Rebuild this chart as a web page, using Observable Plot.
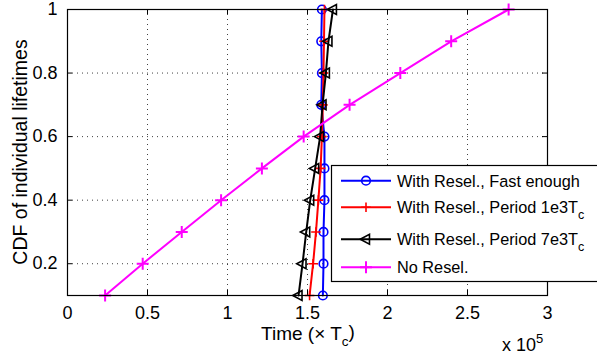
<!DOCTYPE html>
<html>
<head>
<meta charset="utf-8">
<script src="https://cdn.jsdelivr.net/npm/d3@7"></script>
<script src="https://cdn.jsdelivr.net/npm/@observablehq/plot@0.6"></script>
<style>
  html, body { margin: 0; padding: 0; background: #fff; }
  #chart svg { display: block; }
</style>
</head>
<body>
<div id="chart"></div>
<script>
// ---- data (x in units of 10^5 Tc) ----
const cdfLevels = [0.1, 0.2, 0.3, 0.4, 0.5, 0.6, 0.7, 0.8, 0.9, 1.0];
const fastEnough = [1.596, 1.600, 1.600, 1.606, 1.606, 1.606, 1.586, 1.590, 1.586, 1.590];
const period1e3 = [1.513, 1.535, 1.553, 1.568, 1.582, 1.590, 1.596, 1.600, 1.603, 1.606];
const period7e3 = [1.444, 1.469, 1.492, 1.517, 1.548, 1.579, 1.594, 1.615, 1.631, 1.659];
const noResel = [0.235, 0.470, 0.714, 0.960, 1.215, 1.476, 1.763, 2.080, 2.398, 2.757];
const seriesNames = ["With Resel., Fast enough", "With Resel., Period 1e3T_c", "With Resel., Period 7e3T_c", "No Resel."];
const xTicks = [0, 0.5, 1, 1.5, 2, 2.5, 3];
const yTicks = [0.2, 0.4, 0.6, 0.8, 1];
const xExponent = 5;

// ---- symbols ----
const circleSym = {draw(ctx, size) { const r = Math.sqrt(size / Math.PI); ctx.moveTo(r, 0); ctx.arc(0, 0, r, 0, 2 * Math.PI); }};
const plusSym = {draw(ctx, size) { const r = Math.sqrt(size / Math.PI); ctx.moveTo(-r, 0); ctx.lineTo(r, 0); ctx.moveTo(0, -r); ctx.lineTo(0, r); }};
const triLeftSym = {draw(ctx, size) { const r = Math.sqrt(size / Math.PI); ctx.moveTo(-r, 0); ctx.lineTo(r * 0.6, -r * 0.85); ctx.lineTo(r * 0.6, r * 0.85); ctx.closePath(); }};

const series = [
  {name: seriesNames[0], values: fastEnough, color: "#0000ff", symbol: circleSym, r: 4.3, sw: 1.6},
  {name: seriesNames[1], values: period1e3, color: "#ff0000", symbol: plusSym, r: 4.8, sw: 1.6},
  {name: seriesNames[2], values: period7e3, color: "#000000", symbol: triLeftSym, r: 5.8, sw: 1.6},
  {name: seriesNames[3], values: noResel, color: "#ff00ff", symbol: plusSym, r: 6, sw: 2}
];
const rows = series.map(s => s.values.map((x, i) => ({series: s.name, x, y: cdfLevels[i]})));

const W = 597, H = 358;
const mL = 67, mR = 50, mT = 9, mB = 63;
const plotH = H - mT - mB;
const FONT = "'Liberation Sans', Arial, Helvetica, sans-serif";

const marks = [
  Plot.gridX(xTicks, {stroke: "#000", strokeOpacity: 0.75, strokeDasharray: "1,4", strokeWidth: 1}),
  Plot.gridY(yTicks, {stroke: "#000", strokeOpacity: 0.75, strokeDasharray: "1,4", strokeWidth: 1}),
  Plot.ruleX(xTicks, {insetTop: plotH - 5, stroke: "#000"}),
  Plot.ruleX(xTicks, {insetBottom: plotH - 5, stroke: "#000"}),
  Plot.ruleY(yTicks, {insetRight: (W - mL - mR) - 5, stroke: "#000"}),
  Plot.ruleY(yTicks, {insetLeft: (W - mL - mR) - 5, stroke: "#000"}),
  Plot.axisX(xTicks, {tickSize: 0, tickPadding: 11, label: null, tickFormat: d => String(d)}),
  Plot.axisY(yTicks, {tickSize: 0, tickPadding: 10, label: null, tickFormat: d => String(d)})
];
series.forEach((s, k) => {
  marks.push(Plot.line(rows[k], {x: "x", y: "y", stroke: s.color, strokeWidth: 2}));
  marks.push(Plot.dot(rows[k], {x: "x", y: "y", stroke: s.color, fill: "none", symbol: s.symbol, r: s.r, strokeWidth: s.sw}));
});
marks.push(Plot.frame({stroke: "#000", strokeWidth: 1.2}));

const chart = Plot.plot({
  width: W, height: H,
  marginLeft: mL, marginRight: mR, marginTop: mT, marginBottom: mB,
  style: {fontFamily: FONT, fontSize: "18px", color: "#000", background: "#fff", overflow: "visible"},
  x: {domain: [0, 3]},
  y: {domain: [0.1, 1]},
  marks
});
document.getElementById("chart").appendChild(chart);

// ---- labels and legend ----
const svg = d3.select(chart);
function richText(sel, str, subSize) {
  const parts = str.split("_");
  sel.append("tspan").text(parts[0]);
  if (parts.length > 1) {
    sel.append("tspan").attr("dy", "0.45em").style("font-size", subSize + "px").text(parts[1]);
  }
}
// x label
const xl = svg.append("text").attr("x", (mL + W - mR) / 2 + 1).attr("y", 340)
  .attr("text-anchor", "middle").style("font-size", "19px").attr("font-family", FONT).style("fill", "#000");
xl.append("tspan").text("Time (\u00d7 T");
xl.append("tspan").attr("dy", "0.42em").style("font-size", "13.5px").text("c");
xl.append("tspan").attr("dy", "-0.42em").text(")");
// y label
svg.append("text").attr("transform", `translate(27,${mT + plotH / 2}) rotate(-90)`)
  .attr("text-anchor", "middle").style("font-size", "19.5px").attr("font-family", FONT).style("fill", "#000")
  .text("CDF of individual lifetimes");
// exponent
const ex = svg.append("text").attr("x", 502).attr("y", 351).attr("text-anchor", "start")
  .style("font-size", "18px").attr("font-family", FONT).style("fill", "#000");
ex.append("tspan").text("x 10");
ex.append("tspan").attr("dy", "-0.6em").style("font-size", "13px").text(String(xExponent));

// legend
const lg = svg.append("g").attr("font-family", FONT).style("font-size", "16.3px").attr("text-anchor", "start");
lg.append("rect").attr("x", 331.5).attr("y", 165.5).attr("width", 300).attr("height", 116)
  .style("fill", "#ffffff").style("stroke", "#000000").style("stroke-width", "1.2px");
const rowY = [180.7, 207.3, 239.3, 267.3];
series.forEach((s, k) => {
  const y = rowY[k];
  lg.append("line").attr("x1", 341).attr("x2", 391).attr("y1", y).attr("y2", y)
    .style("stroke", s.color).style("stroke-width", "2px");
  lg.append("path").attr("transform", `translate(366,${y})`)
    .attr("d", d3.symbol(s.symbol, Math.PI * s.r * s.r)())
    .style("fill", "none").style("stroke", s.color).style("stroke-width", s.sw + "px");
  const t = lg.append("text").attr("x", 397).attr("y", y + 6).attr("text-anchor", "start").style("fill", "#000");
  richText(t, s.name, 12.5);
});
</script>
</body>
</html>
